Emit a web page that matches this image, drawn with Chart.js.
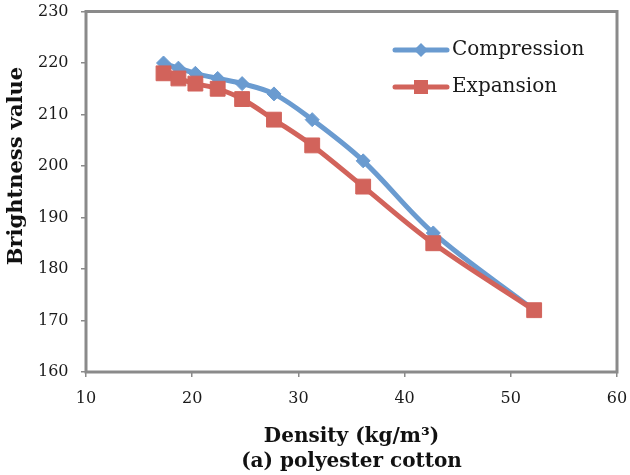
<!DOCTYPE html>
<html>
<head>
<style>
  body { margin: 0; background: #fff; }
  #wrap { width: 630px; height: 475px; }
</style>
</head>
<body>
<div id="wrap"><canvas id="myChart"></canvas></div>
<script src="https://cdn.jsdelivr.net/npm/chart.js"></script>
<script>
const density = [17.3, 18.7, 20.3, 22.4, 24.7, 27.7, 31.3, 36.1, 42.7, 52.2];
const compression = [220, 219, 218, 217, 216, 214, 209, 201, 187, 172];
const expansion = [218, 217, 216, 215, 213, 209, 204, 196, 185, 172];
const xTicks = [10, 20, 30, 40, 50, 60];
const yTicks = [160, 170, 180, 190, 200, 210, 220, 230];
const seriesNames = ['Compression', 'Expansion'];
const yTitle = 'Brightness value';
const xTitle = ['Density (kg/m\u00b3)', '(a) polyester cotton'];

const FONT = '"DejaVu Serif", serif';
const BLUE = '#6a9bd0';
const RED = '#d2635b';

function toPoints(ys) {
  return density.map((x, i) => ({ x: x, y: ys[i] }));
}

const extras = {
  id: 'extras',
  beforeDatasetsDraw(chart) {
    const { ctx, chartArea: a } = chart;
    ctx.save();
    ctx.strokeStyle = '#8a8a8a';
    ctx.lineWidth = 3;
    ctx.strokeRect(a.left, a.top, a.right - a.left, a.bottom - a.top);
    ctx.restore();
  },
  afterDraw(chart) {
    const { ctx } = chart;
    ctx.save();
    // y axis title
    ctx.translate(17, 166);
    ctx.rotate(-Math.PI / 2);
    ctx.font = 'bold 21px ' + FONT;
    ctx.fillStyle = '#111';
    ctx.textAlign = 'center';
    ctx.textBaseline = 'middle';
    ctx.fillText(yTitle, 0, 0);
    ctx.restore();

    // legend
    ctx.save();
    chart.data.datasets.forEach((ds, i) => {
      const y = 50 + i * 37;
      ctx.strokeStyle = ds.borderColor;
      ctx.lineWidth = 5;
      ctx.lineCap = 'round';
      ctx.beginPath();
      ctx.moveTo(395, y);
      ctx.lineTo(447, y);
      ctx.stroke();
      ctx.fillStyle = ds.borderColor;
      ctx.beginPath();
      if (ds.pointStyle === 'rectRot') {
        ctx.moveTo(421, y - 7); ctx.lineTo(428, y); ctx.lineTo(421, y + 7); ctx.lineTo(414, y);
      } else {
        ctx.rect(414, y - 7, 14, 14);
      }
      ctx.fill();
      ctx.fillStyle = '#1a1a1a';
      ctx.font = '20px ' + FONT;
      ctx.textAlign = 'left';
      ctx.textBaseline = 'middle';
      ctx.fillText(ds.label, 452, y);
    });
    ctx.restore();
  }
};

const ctx = document.getElementById('myChart');

const chart = new Chart(ctx, {
  type: 'line',
  data: {
    datasets: [
      {
        label: seriesNames[0],
        data: toPoints(compression),
        borderColor: BLUE,
        backgroundColor: BLUE,
        borderWidth: 5,
        pointStyle: 'rectRot',
        pointRadius: 7,
        pointBorderWidth: 1,
        tension: 0.35,
        order: 2
      },
      {
        label: seriesNames[1],
        data: toPoints(expansion),
        borderColor: RED,
        backgroundColor: RED,
        borderWidth: 5,
        pointStyle: 'rect',
        pointRadius: 10.5,
        pointBorderWidth: 1,
        tension: 0.35,
        order: 1
      }
    ]
  },
  options: {
    responsive: true,
    maintainAspectRatio: false,
    animation: false,
    layout: { padding: { top: 11, right: 13, left: 38, bottom: 0 } },
    plugins: {
      legend: { display: false },
      tooltip: { enabled: false }
    },
    scales: {
      x: {
        type: 'linear',
        min: xTicks[0],
        max: xTicks[xTicks.length - 1],
        afterBuildTicks: (s) => { s.ticks = xTicks.map(v => ({ value: v })); },
        border: { display: false },
        grid: { drawOnChartArea: false, tickLength: 5, color: '#8a8a8a', lineWidth: 1.5 },
        ticks: { padding: 12, color: '#1a1a1a', font: { family: FONT, size: 16 } },
        title: {
          display: true,
          text: xTitle,
          color: '#111',
          padding: { top: 0, bottom: 1 },
          font: { family: FONT, size: 20, weight: 'bold', lineHeight: 1.25 }
        },
        afterFit: (s) => { s.height = 103; s.paddingLeft = 0; s.paddingRight = 0; }
      },
      y: {
        min: yTicks[0],
        max: yTicks[yTicks.length - 1],
        afterBuildTicks: (s) => { s.ticks = yTicks.map(v => ({ value: v })); },
        border: { display: false },
        grid: { drawOnChartArea: false, tickLength: 5, color: '#8a8a8a', lineWidth: 1.5 },
        ticks: { crossAlign: 'far', padding: 13, color: '#1a1a1a', font: { family: FONT, size: 16 } },
        afterFit: (s) => { s.width = 48; s.paddingTop = 0; s.paddingBottom = 0; }
      }
    }
  },
  plugins: [extras]
});
</script>
</body>
</html>
